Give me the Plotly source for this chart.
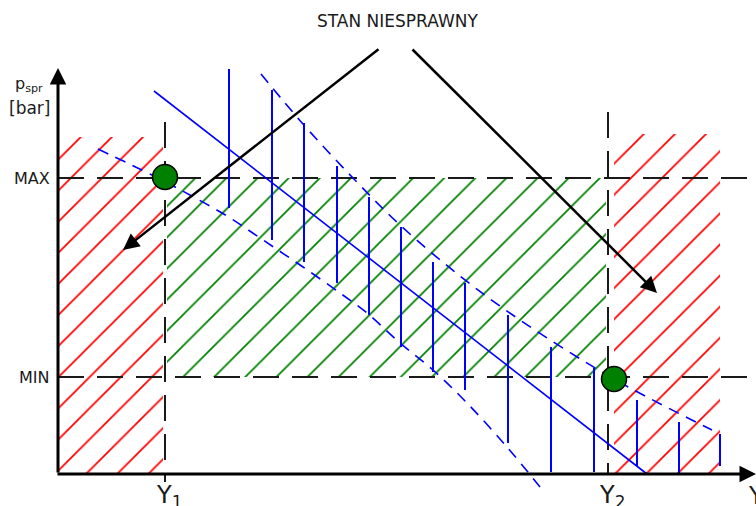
import plotly.graph_objects as go

# ---- coordinate system: origin at the axes crossing, y up (arbitrary diagram units) ----
Y1 = 107          # position of Y1 on the horizontal axis
Y2 = 550          # position of Y2
P_MIN = 97        # MIN pressure level
P_MAX = 296       # MAX pressure level

# hatched zones (x0, x1, y0, y1)
red_left = (0, 105, 0, 337)
red_right = (556, 662, 0, 340)
green_zone = (109, 548, P_MIN, P_MAX)

# solid blue trend line
trend_x = [96, 589]
trend_y = [383, 0]

# upper dashed blue boundary
upper_x = [203, 245, 295, 342, 402, 462, 556, 654]
upper_y = [400, 350, 296, 249, 198, 154, 95, 44]

# lower dashed blue boundary
lower_x = [40, 94, 119, 169, 205, 245, 282, 309, 342, 375, 409, 449, 482]
lower_y = [325, 299, 286, 258, 234, 207, 181, 161, 131, 104, 71, 27, -13]

# vertical blue bars (position, top, bottom)
bar_x = [171, 214, 246, 279, 311, 343, 375, 407, 450, 493, 536, 579, 621, 662]
bar_top = [405, 384, 351, 308, 277, 247, 212, 191, 159, 127, 106, 74, 52, 40]
bar_bot = [266, 234, 212, 191, 159, 127, 102, 84, 31, 2, 2, 8, 0, 8]

# green points
pt_x = [107, 556]
pt_y = [297, 95]

# "STAN NIESPRAWNY" arrows: (tail x, tail y, head x, head y)
arrows = [(322, 426, 65, 224), (353, 426, 599, 181)]

FONT = "DejaVu Sans"
TXT = "#1a1a1a"

fig = go.Figure()


def zone(r, color):
    x0, x1, y0, y1 = r
    fig.add_trace(go.Scatter(
        x=[x0, x1, x1, x0, x0], y=[y0, y0, y1, y1, y0],
        mode="lines", line=dict(width=0), fill="toself",
        fillcolor="rgba(0,0,0,0)", opacity=1,
        fillpattern=dict(shape="/", fgcolor=color, fgopacity=1, fillmode="replace",
                         bgcolor="rgba(255,255,255,0)", size=22, solidity=0.08),
        hoverinfo="skip", showlegend=False))


zone(red_left, "#ff0000")
zone(red_right, "#ff0000")
zone(green_zone, "#008000")

# black dashed reference lines
dash_k = dict(color=TXT, width=2, dash="26px,13px")
fig.add_trace(go.Scatter(x=[0, 694], y=[P_MAX, P_MAX], mode="lines", line=dash_k,
                         showlegend=False, hoverinfo="skip"))
fig.add_trace(go.Scatter(x=[0, 694], y=[P_MIN, P_MIN], mode="lines", line=dash_k,
                         showlegend=False, hoverinfo="skip"))
fig.add_trace(go.Scatter(x=[Y1, Y1], y=[352, -8], mode="lines", line=dash_k,
                         showlegend=False, hoverinfo="skip"))
fig.add_trace(go.Scatter(x=[Y2, Y2], y=[362, 0], mode="lines", line=dash_k,
                         showlegend=False, hoverinfo="skip"))

# blue elements
blue = "#0000ff"
fig.add_trace(go.Scatter(x=trend_x, y=trend_y, mode="lines",
                         line=dict(color=blue, width=1.6), showlegend=False))
fig.add_trace(go.Scatter(x=upper_x, y=upper_y, mode="lines",
                         line=dict(color=blue, width=1.6, dash="11px,8px", shape="spline"),
                         showlegend=False))
fig.add_trace(go.Scatter(x=lower_x, y=lower_y, mode="lines",
                         line=dict(color=blue, width=1.6, dash="11px,8px", shape="spline"),
                         showlegend=False))
bx, by = [], []
for x, t, b in zip(bar_x, bar_top, bar_bot):
    bx += [x, x, None]
    by += [t, b, None]
fig.add_trace(go.Scatter(x=bx, y=by, mode="lines", line=dict(color=blue, width=2),
                         showlegend=False))

# green points
fig.add_trace(go.Scatter(x=pt_x, y=pt_y, mode="markers",
                         marker=dict(size=25, color="#008000", line=dict(color="black", width=1.5)),
                         showlegend=False))

ann = []
# axes with arrows
ann.append(dict(x=0, y=406, ax=0, ay=0, xref="x", yref="y", axref="x", ayref="y",
                text="", showarrow=True, arrowhead=2, arrowsize=1.1, arrowwidth=3, arrowcolor="black"))
ann.append(dict(x=698, y=0, ax=-2, ay=0, xref="x", yref="y", axref="x", ayref="y",
                text="", showarrow=True, arrowhead=2, arrowsize=1.1, arrowwidth=3, arrowcolor="black"))
for (tx, ty, hx, hy) in arrows:
    ann.append(dict(x=hx, y=hy, ax=tx, ay=ty, xref="x", yref="y", axref="x", ayref="y",
                    text="", showarrow=True, arrowhead=2, arrowsize=1.3, arrowwidth=2.5,
                    arrowcolor="black"))

# texts
ann.append(dict(x=339, y=453, text="STAN NIESPRAWNY", showarrow=False,
                font=dict(family=FONT, size=17, color=TXT)))
ann.append(dict(x=-6, y=P_MAX, text="MAX", showarrow=False, xanchor="right",
                font=dict(family=FONT, size=16, color=TXT)))
ann.append(dict(x=-6, y=P_MIN, text="MIN", showarrow=False, xanchor="right",
                font=dict(family=FONT, size=16, color=TXT)))
ann.append(dict(x=-29, y=390, text="p<sub>spr</sub>", showarrow=False,
                font=dict(family=FONT, size=16, color=TXT)))
ann.append(dict(x=-29, y=366, text="[bar]", showarrow=False,
                font=dict(family=FONT, size=17, color=TXT)))
ann.append(dict(x=Y1 + 4, y=-22, text="Y<sub>1</sub>", showarrow=False,
                font=dict(family=FONT, size=24, color=TXT)))
ann.append(dict(x=Y2 + 4, y=-22, text="Y<sub>2</sub>", showarrow=False,
                font=dict(family=FONT, size=24, color=TXT)))
ann.append(dict(x=688, y=-22, text="Y", showarrow=False, xanchor="left",
                font=dict(family=FONT, size=24, color=TXT)))

for a in ann:
    a.setdefault("xref", "x")
    a.setdefault("yref", "y")

fig.update_layout(
    width=756, height=506, margin=dict(l=0, r=0, t=0, b=0),
    paper_bgcolor="white", plot_bgcolor="white",
    xaxis=dict(range=[-58, 698], visible=False, fixedrange=True),
    yaxis=dict(range=[-32, 474], visible=False, fixedrange=True),
    annotations=ann, showlegend=False,
)
fig.write_html("out.html", config={"displayModeBar": False},
               post_script="document.body.style.margin='0';document.body.style.overflow='hidden';")
